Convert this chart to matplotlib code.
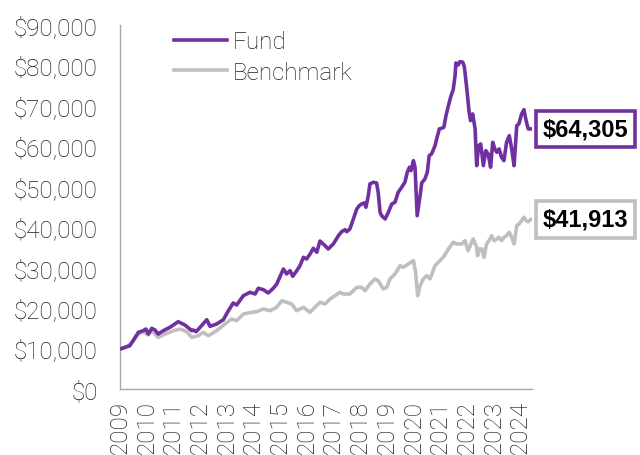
import matplotlib
matplotlib.use("Agg")
import matplotlib.pyplot as plt
from matplotlib.ticker import FuncFormatter

# growth of $10,000 (decimal year, value)
fund_years = [2009.06, 2009.37, 2009.69, 2009.87, 2009.97, 2010.06, 2010.19, 2010.31, 2010.43, 2010.62,
              2010.87, 2011.18, 2011.43, 2011.69, 2011.75, 2011.85, 2012.00, 2012.25, 2012.37, 2012.62,
              2012.87, 2013.06, 2013.24, 2013.37, 2013.62, 2013.87, 2014.06, 2014.18, 2014.37, 2014.55,
              2014.74, 2014.87, 2015.12, 2015.24, 2015.37, 2015.47, 2015.62, 2015.74, 2015.87, 2015.99,
              2016.12, 2016.24, 2016.37, 2016.49, 2016.68, 2016.80, 2016.99, 2017.18, 2017.30, 2017.43,
              2017.49, 2017.61, 2017.74, 2017.87, 2017.96, 2018.05, 2018.15, 2018.21, 2018.30, 2018.36,
              2018.49, 2018.61, 2018.67, 2018.74, 2018.80, 2018.93, 2019.05, 2019.18, 2019.30, 2019.42,
              2019.55, 2019.67, 2019.76, 2019.84, 2019.90, 2019.99, 2020.05, 2020.13, 2020.24, 2020.30,
              2020.42, 2020.51, 2020.58, 2020.67, 2020.80, 2020.86, 2020.96, 2021.05, 2021.13, 2021.21,
              2021.30, 2021.40, 2021.48, 2021.55, 2021.58, 2021.67, 2021.73, 2021.84, 2021.90, 2021.99,
              2022.07, 2022.13, 2022.21, 2022.30, 2022.36, 2022.43, 2022.51, 2022.61, 2022.70, 2022.79,
              2022.88, 2022.96, 2023.04, 2023.11, 2023.20, 2023.29, 2023.38, 2023.48, 2023.58, 2023.67,
              2023.76, 2023.86, 2023.94, 2024.04, 2024.13, 2024.21, 2024.29, 2024.38]
fund_values = [10000, 10708, 14022, 14418, 14838, 13602, 15011, 14591, 13602, 14418,
               15258, 16643, 15827, 14418, 14591, 14170, 15258, 17138, 15506, 16075,
               17138, 19364, 21268, 20773, 23073, 23914, 23494, 24903, 24557, 23741,
               24903, 25967, 29676, 28440, 29256, 27871, 29256, 30492, 32569, 32149,
               33386, 34795, 33806, 36600, 35438, 34622, 35859, 37911, 38900, 39395,
               38900, 39568, 42041, 44514, 45330, 45751, 45998, 44935, 47803, 50697,
               51117, 50944, 48644, 43698, 42857, 42041, 43698, 45751, 46171, 48644,
               49881, 51117, 53590, 54826, 53986, 56459, 54826, 42857, 47803, 50944,
               51933, 53590, 57695, 58116, 60168, 61825, 64298, 64471, 64718, 67587,
               70060, 72533, 74017, 77479, 80620, 80125, 80941, 80793, 79556, 74190,
               68824, 66351, 68008, 64298, 55222, 60168, 60589, 55222, 58932, 58116,
               54826, 61008, 59352, 58536, 59352, 57299, 56459, 61008, 62641, 59352,
               55222, 65114, 65535, 68008, 69071, 66351, 64298, 64305]

bench_years = [2009.06, 2009.31, 2009.50, 2009.69, 2009.87, 2010.06, 2010.19, 2010.43, 2010.69, 2011.00,
               2011.25, 2011.50, 2011.69, 2011.93, 2012.12, 2012.31, 2012.62, 2012.93, 2013.18, 2013.37,
               2013.62, 2013.93, 2014.12, 2014.37, 2014.62, 2014.87, 2015.06, 2015.24, 2015.43, 2015.62,
               2015.87, 2016.12, 2016.30, 2016.49, 2016.68, 2016.87, 2017.05, 2017.24, 2017.36, 2017.61,
               2017.87, 2018.05, 2018.18, 2018.36, 2018.55, 2018.67, 2018.86, 2018.99, 2019.11, 2019.30,
               2019.49, 2019.61, 2019.80, 2019.99, 2020.07, 2020.15, 2020.24, 2020.36, 2020.49, 2020.61,
               2020.80, 2020.92, 2021.11, 2021.30, 2021.48, 2021.61, 2021.80, 2021.92, 2022.04, 2022.17,
               2022.23, 2022.36, 2022.39, 2022.46, 2022.55, 2022.63, 2022.73, 2022.82, 2022.92, 2023.01,
               2023.11, 2023.20, 2023.29, 2023.38, 2023.48, 2023.58, 2023.67, 2023.76, 2023.86, 2023.95,
               2024.04, 2024.13, 2024.21, 2024.29, 2024.38]
bench_values = [10000, 10708, 11945, 13602, 14170, 13354, 14418, 12785, 13602, 14418,
                14838, 14170, 12785, 13181, 14022, 13181, 14418, 16075, 17311, 16891,
                18548, 18968, 19117, 19784, 19364, 20204, 21837, 21441, 21021, 19364,
                20204, 18968, 20204, 21441, 21021, 22257, 23073, 23914, 23494, 23494,
                25150, 25150, 24310, 25967, 27203, 26782, 24730, 25150, 27203, 28440,
                30492, 30096, 30913, 31729, 28860, 23073, 25546, 27203, 28019, 27203,
                30492, 31333, 32569, 34622, 36279, 35859, 35859, 36675, 34201, 36279,
                37095, 35043, 32965, 34622, 34622, 32569, 35859, 36675, 37911, 36675,
                37095, 37515, 36675, 37515, 37911, 38752, 37515, 35859, 40384, 40804,
                41620, 42460, 41620, 41373, 41913]

year_ticks = list(range(2009, 2025))
series_names = ["Fund", "Benchmark"]

PURPLE = "#7030a0"
GREY = "#bfbfbf"
TEXT = "#1f1f1f"

plt.rcParams['font.family'] = ['Roboto', 'DejaVu Sans']

fig = plt.figure(figsize=(6.4, 4.56), dpi=100)
ax = fig.add_axes([0.1875, 0.1447, 0.6437, 0.7983])

ax.plot(bench_years, bench_values, color=GREY, linewidth=2.6, label=series_names[1], zorder=2)
ax.plot(fund_years, fund_values, color=PURPLE, linewidth=2.6, label=series_names[0], zorder=3)

ax.set_xlim(2009.0, 2024.43)
ax.set_ylim(0, 90000)
ax.set_yticks(range(0, 90001, 10000))
ax.yaxis.set_major_formatter(FuncFormatter(lambda v, p: f"${v:,.0f}"))
ax.set_xticks(year_ticks)
ax.set_xticklabels([str(y) for y in year_ticks], rotation=90)

ax.tick_params(axis='y', length=0, pad=16, labelsize=17.5, labelcolor=TEXT)
ax.tick_params(axis='x', length=0, pad=8, labelsize=17.5, labelcolor=TEXT)
for lab in ax.get_xticklabels() + ax.get_yticklabels():
    lab.set_fontweight('light')

for side in ['top', 'right']:
    ax.spines[side].set_visible(False)
for side in ['left', 'bottom']:
    ax.spines[side].set_color('#a6a6a6')
    ax.spines[side].set_linewidth(1.0)

handles, labels = ax.get_legend_handles_labels()
leg = ax.legend(handles[::-1], labels[::-1], loc='upper left', bbox_to_anchor=(0.131, 0.985),
                frameon=False, fontsize=17.5, handlelength=2.2, handletextpad=0.2,
                labelspacing=0.3, borderpad=0, borderaxespad=0)
for t in leg.get_texts():
    t.set_color(TEXT)
    t.set_fontweight('light')

# end value boxes
for years, values, col in [(fund_years, fund_values, PURPLE), (bench_years, bench_values, GREY)]:
    ax.annotate(f"${values[-1]:,.0f}", xy=(years[-1], values[-1]), xytext=(8.5, 0),
                textcoords='offset points', ha='left', va='center', annotation_clip=False,
                fontsize=17, fontweight='bold', color='black',
                family=['Liberation Sans', 'DejaVu Sans'],
                bbox=dict(boxstyle='square,pad=0.28', facecolor='white', edgecolor=col, linewidth=2.6))

fig.savefig("out.png", dpi=100)
